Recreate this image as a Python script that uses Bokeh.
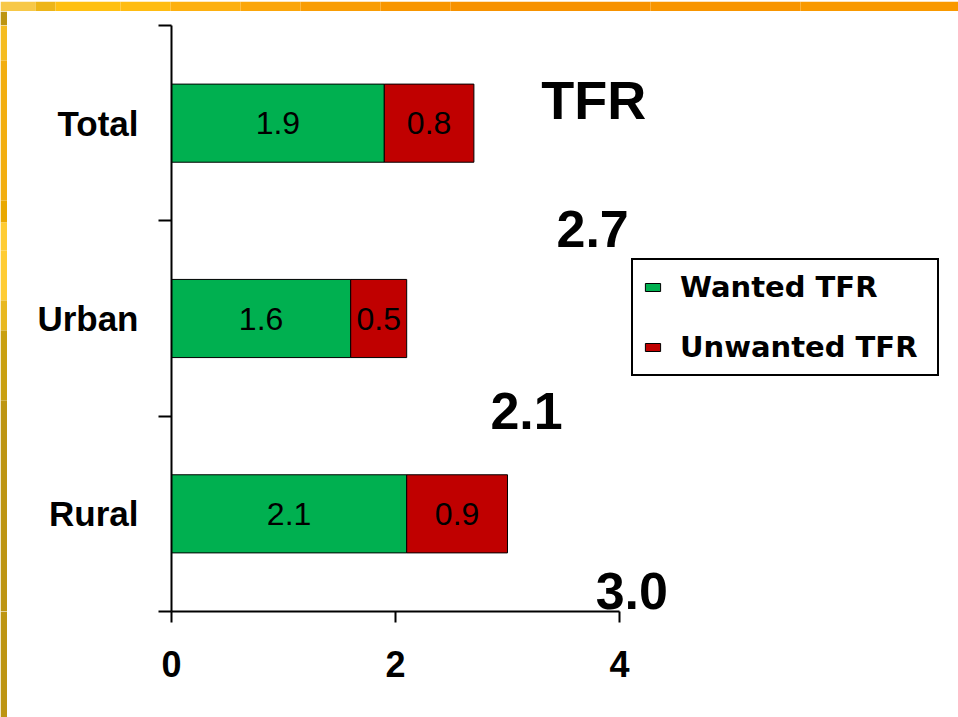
from bokeh.plotting import figure
from bokeh.models import ColumnDataSource, Range1d, FixedTicker, Label
from bokeh.layouts import column, row
from bokeh.embed import file_html
from bokeh.resources import INLINE
from bokeh.core.properties import value

# ---- data ----
categories = ["Total", "Urban", "Rural"]          # top to bottom
wanted = [1.9, 1.6, 2.1]
unwanted = [0.8, 0.5, 0.9]
x_ticks = [0, 2, 4]
series_names = ["Wanted TFR", "Unwanted TFR"]
headline = "TFR"

# ---- styles ----
GREEN = "#00B050"
RED = "#C00000"
FONT = "Liberation Sans"
B_TOP, B_BOTTOM = 14, 106

n = len(categories)
ypos = [n - 1 - i for i in range(n)]
totals = [round(w + u, 1) for w, u in zip(wanted, unwanted)]

src = ColumnDataSource(dict(
    y=ypos, wanted=wanted, unwanted=unwanted,
    wx=[w / 2 for w in wanted],
    ux=[w + u / 2 for w, u in zip(wanted, unwanted)],
    wt=[f"{w:.1f}" for w in wanted],
    ut=[f"{u:.1f}" for u in unwanted],
))

p = figure(width=951, height=706, output_backend="svg", toolbar_location=None,
           x_range=Range1d(0, 6.893), y_range=Range1d(-0.5, n - 0.5),
           min_border_left=164, min_border_right=15,
           min_border_top=B_TOP, min_border_bottom=B_BOTTOM)
p.outline_line_color = None
p.grid.visible = False
p.background_fill_color = "white"
p.border_fill_color = "white"

p.hbar_stack(["wanted", "unwanted"], y="y", height=0.4, color=[GREEN, RED],
             line_color="black", line_width=1, source=src,
             legend_label=series_names)

p.text(x="wx", y="y", text="wt", source=src, text_align="center",
       text_baseline="middle", text_font=value(FONT), text_font_size="32px",
       text_color="black")
p.text(x="ux", y="y", text="ut", source=src, text_align="center",
       text_baseline="middle", text_font=value(FONT), text_font_size="32px",
       text_color="black")

# x axis
xa = p.xaxis[0]
xa.ticker = FixedTicker(ticks=x_ticks)
xa.bounds = (min(x_ticks), max(x_ticks))
xa.axis_line_width = 2
xa.axis_line_color = "black"
xa.major_tick_out = 11
xa.major_tick_in = 0
xa.major_tick_line_width = 2
xa.minor_tick_line_color = None
xa.major_label_standoff = 28
xa.major_label_text_font = FONT
xa.major_label_text_font_style = "bold"
xa.major_label_text_font_size = "36px"
xa.major_label_text_color = "black"

# y axis
ya = p.yaxis[0]
ya.ticker = FixedTicker(ticks=ypos, minor_ticks=[y - 0.5 for y in ypos] + [n - 0.5])
ya.major_label_overrides = {y: c for y, c in zip(ypos, categories)}
ya.axis_line_width = 2
ya.axis_line_color = "black"
ya.major_tick_out = 0
ya.major_tick_in = 0
ya.minor_tick_out = 13
ya.minor_tick_in = 0
ya.minor_tick_line_width = 2
ya.minor_tick_line_color = "black"
ya.major_label_standoff = 20
ya.major_label_text_font = FONT
ya.major_label_text_font_style = "bold"
ya.major_label_text_font_size = "35px"
ya.major_label_text_color = "black"

# legend
lg = p.legend[0]
lg.location = (460, 235)
lg.border_line_color = "black"
lg.border_line_alpha = 1
lg.border_line_width = 2
lg.background_fill_color = "white"
lg.background_fill_alpha = 1
lg.padding = 10
lg.spacing = 26
lg.margin = 0
lg.glyph_width = 19
lg.glyph_height = 10
lg.label_standoff = 18
lg.label_width = 247
lg.label_text_font = "DejaVu Sans"
lg.label_text_font_style = "bold"
lg.label_text_font_size = "29px"
lg.label_text_color = "black"

# floating headline and totals
p.add_layout(Label(x=3.77, y=2.118, text=headline, text_align="center",
                   text_baseline="middle", text_font=FONT, text_font_style="bold",
                   text_font_size="54px", text_color="black"))
total_pos = [(3.76, 1.460), (3.17, 0.525), (4.11, -0.396)]
for (tx, ty), t in zip(total_pos, totals):
    p.add_layout(Label(x=tx, y=ty, text=f"{t:.1f}", text_align="center",
                       text_baseline="middle", text_font=FONT,
                       text_font_style="bold", text_font_size="52px",
                       text_color="black"))

# ---- decorative slide border strips ----
def strip(w, h, xr, yr, border_color, **borders):
    s = figure(width=w, height=h, output_backend="svg", toolbar_location=None,
               x_axis_location=None, y_axis_location=None,
               x_range=xr, y_range=yr, **borders)
    s.outline_line_color = None
    s.grid.visible = False
    s.border_fill_color = border_color
    return s

# left strip: its frame lines up with the chart frame
left_edges = [25, 60, 200, 222, 250, 300, 330, 400, 611]
left_colors = ["#F5BC20", "#F2AE10", "#E9A800", "#FFCC33", "#FFCC33",
               "#E8B820", "#C9A010", "#BD9512"]
left = strip(7, 706, Range1d(0, 1), Range1d(611, 25), "#BD9512",
             min_border_left=0, min_border_right=0,
             min_border_top=B_TOP, min_border_bottom=B_BOTTOM)
left.quad(left=0, right=1, top=left_edges[:-1], bottom=left_edges[1:],
          fill_color=left_colors, line_color=None)

top_edges = [0, 35, 55, 120, 170, 240, 300, 380, 450, 650, 800, 958]
top_colors = ["#F7C848", "#EDB518", "#FFC012", "#FFBC12", "#FDB010", "#FBA60A",
              "#F99D04", "#F89600", "#F79200", "#F89500", "#F99900"]
top = strip(958, 11, Range1d(0, 958), Range1d(0, 1), "#F89600",
            min_border_left=0, min_border_right=0,
            min_border_top=0, min_border_bottom=0)
top.quad(left=top_edges[:-1], right=top_edges[1:], bottom=0, top=1,
         fill_color=top_colors, line_color=None)

layout = column(top, row(left, p, spacing=0, margin=0), spacing=0, margin=0)

open("out.html", "w").write(file_html(layout, INLINE))
